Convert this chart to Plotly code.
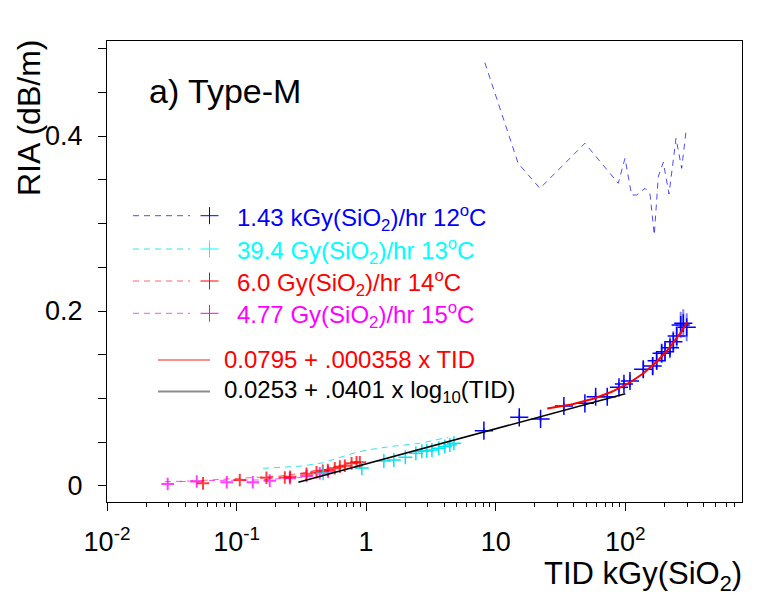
import numpy as np
import plotly.graph_objects as go

# TID in kGy(SiO2), RIA in dB/m
# 1.43 kGy/hr, 12 C
blue_tid = [8.11, 15.2, 22.2, 33.6, 48.8, 59.1, 72.6, 89.4, 97.7, 108.7, 137.7, 162.8,
            174.8, 191, 202.6, 221.4, 234.8, 249.5, 267.8, 280.5, 298]
blue_ria = [0.0632, 0.0785, 0.0766, 0.0914, 0.0945, 0.102, 0.102, 0.1128, 0.1166, 0.12,
            0.1334, 0.1371, 0.1432, 0.1517, 0.1535, 0.158, 0.1649, 0.1714, 0.184, 0.186, 0.1814]
blue_err = [0.003, 0.003, 0.003, 0.004, 0.004, 0.005, 0.005, 0.006, 0.006, 0.007, 0.009,
            0.010, 0.010, 0.011, 0.011, 0.012, 0.012, 0.013, 0.015, 0.016, 0.016]
blue_line_tid = [8.25, 14.9, 21.95, 48.8, 88.3, 99.5, 112, 122.5, 142, 155, 167.5, 179.8,
                 196.6, 217.6, 246.4, 272.6, 294.2]
blue_line_ria = [0.4838, 0.3688, 0.3402, 0.3917, 0.346, 0.3745, 0.3326, 0.3326, 0.3402,
                 0.3345, 0.2869, 0.3535, 0.37, 0.3337, 0.3974, 0.3631, 0.405]

# 39.4 Gy/hr, 13 C
cyan_tid = [0.466, 0.926, 1.37, 1.636, 2.008, 2.42, 2.69, 2.94, 3.22, 3.64, 4.05, 4.43, 4.76]
cyan_ria = [0.0145, 0.0206, 0.0286, 0.0297, 0.0328, 0.0374, 0.0397, 0.04, 0.0411, 0.0431,
            0.045, 0.0469, 0.0488]
cyan_line_tid = [0.160, 0.326, 0.466, 0.794, 1.007, 1.524, 2.598, 4.30]
cyan_line_ria = [0.0202, 0.0229, 0.0266, 0.0374, 0.041, 0.045, 0.0488, 0.0557]

# 6.0 Gy/hr, 14 C
red_tid = [0.0551, 0.1059, 0.170, 0.2357, 0.259, 0.3467, 0.414, 0.463, 0.506, 0.573,
           0.627, 0.685, 0.772, 0.843, 0.894]
red_ria = [0.003, 0.0069, 0.0095, 0.0097, 0.0106, 0.0139, 0.0157, 0.0174, 0.0183, 0.0202,
           0.0221, 0.0232, 0.0259, 0.0271, 0.0271]
red_line_tid = [0.0364, 0.0742, 0.138, 0.2156, 0.317, 0.39, 0.495, 0.86]
red_line_ria = [0.0049, 0.0077, 0.0099, 0.0114, 0.0145, 0.0175, 0.0191, 0.0283]

# 4.77 Gy/hr, 15 C
mag_tid = [0.0294, 0.0493, 0.084, 0.1334, 0.1804, 0.2576, 0.3467, 0.439, 0.509]
mag_ria = [0.0023, 0.0051, 0.0042, 0.0042, 0.0061, 0.0088, 0.0114, 0.0145, 0.0163]
mag_line_tid = [0.028, 0.0621, 0.151, 0.31, 0.466]
mag_line_ria = [0.0049, 0.0063, 0.0069, 0.0097, 0.0145]

# fit coefficients as printed in the legend, and the TID span of each fit
lin_a, lin_b, lin_span = 0.0795, 0.000358, (25, 300)
log_a, log_b, log_span = 0.0253, 0.0401, (0.3, 100)

legend_labels = ["1.43 kGy(SiO<sub>2</sub>)/hr 12<sup>o</sup>C",
                 "39.4 Gy(SiO<sub>2</sub>)/hr 13<sup>o</sup>C",
                 "6.0 Gy(SiO<sub>2</sub>)/hr 14<sup>o</sup>C",
                 "4.77 Gy(SiO<sub>2</sub>)/hr 15<sup>o</sup>C"]
fit_labels = ["0.0795 + .000358 x TID", "0.0253 + .0401 x log<sub>10</sub>(TID)"]

x_ticks = [0.01, 0.1, 1, 10, 100]
x_ticktext = ["10<sup>-2</sup>", "10<sup>-1</sup>", "1", "10", "10<sup>2</sup>"]
y_ticks = [0, 0.05, 0.1, 0.15, 0.2, 0.25, 0.3, 0.35, 0.4, 0.45, 0.5]
y_ticktext = ["0", "", "", "", "0.2", "", "", "", "0.4", "", ""]

FONT = "Liberation Sans, Arial, Helvetica, sans-serif"
colors = ["#0000ff", "#00ffff", "#ff0000", "#ff00ff"]
dash_colors = ["rgba(0,0,255,0.7)", "rgba(0,220,230,0.8)", "rgba(255,0,0,0.6)", "rgba(255,0,255,0.7)"]

fig = go.Figure()

# dashed curves
for tx, ty, c in [(blue_line_tid, blue_line_ria, dash_colors[0]),
                  (cyan_line_tid, cyan_line_ria, dash_colors[1]),
                  (red_line_tid, red_line_ria, dash_colors[2]),
                  (mag_line_tid, mag_line_ria, dash_colors[3])]:
    fig.add_trace(go.Scatter(x=tx, y=ty, mode='lines',
                             line=dict(color=c, width=1, dash='6px,5px'), showlegend=False))

# markers
fig.add_trace(go.Scatter(x=mag_tid, y=mag_ria, mode='markers', showlegend=False,
                         marker=dict(symbol='cross-thin', size=9, line=dict(color='rgba(255,0,255,0.75)', width=2))))
fig.add_trace(go.Scatter(x=red_tid, y=red_ria, mode='markers', showlegend=False,
                         marker=dict(symbol='cross-thin', size=9, line=dict(color='rgba(255,0,0,0.75)', width=2))))
fig.add_trace(go.Scatter(x=cyan_tid, y=cyan_ria, mode='markers', showlegend=False,
                         marker=dict(symbol='cross-thin', size=10, line=dict(color='#00e5f0', width=1.5))))
fig.add_trace(go.Scatter(x=blue_tid, y=blue_ria, mode='markers', showlegend=False,
                         error_y=dict(type='data', array=blue_err, color='rgba(40,40,255,0.6)',
                                      thickness=2, width=0),
                         marker=dict(symbol='cross-thin', size=13, line=dict(color='#0000ff', width=1.5))))

# fit curves
lin_x = np.geomspace(lin_span[0], lin_span[1], 60)
fig.add_trace(go.Scatter(x=lin_x, y=lin_a + lin_b * lin_x, mode='lines', showlegend=False,
                         line=dict(color='#ff0000', width=2)))
log_x = np.array(log_span)
fig.add_trace(go.Scatter(x=log_x, y=log_a + log_b * np.log10(log_x), mode='lines', showlegend=False,
                         line=dict(color='black', width=1.5)))

# plot frame in page pixels; the page body adds an 8px offset
L, R, T, B = 107, 742, 41, 502
OFF = 8
W, H = 777 - OFF, 600 - OFF

def px(x):
    return (x - L) / (R - L)
def py(y):
    return (B - y) / (B - T)

shapes = []
annotations = []
row_y = [215.7, 249, 281, 313.3]
for yy, c, dc, lab in zip(row_y, colors, dash_colors, legend_labels):
    shapes.append(dict(type='line', xref='paper', yref='paper', x0=px(133), x1=px(190),
                       y0=py(yy), y1=py(yy), line=dict(color=dc, width=1, dash='6px,5px')))
    shapes.append(dict(type='line', xref='paper', yref='paper', x0=px(200.5), x1=px(218.5),
                       y0=py(yy), y1=py(yy), line=dict(color=c, width=1)))
    shapes.append(dict(type='line', xref='paper', yref='paper', x0=px(209.5), x1=px(209.5),
                       y0=py(yy - 8.5), y1=py(yy + 8.5), line=dict(color=c, width=1)))
    annotations.append(dict(text=lab, x=px(235), y=py(yy + 2), xref='paper', yref='paper',
                            xanchor='left', yanchor='middle', showarrow=False,
                            font=dict(family=FONT, size=24, color=c)))

for yy, sc, tc, lab in [(360, 'rgba(255,0,0,0.45)', '#ff0000', fit_labels[0]),
                        (391.5, 'rgba(0,0,0,0.45)', 'black', fit_labels[1])]:
    shapes.append(dict(type='line', xref='paper', yref='paper', x0=px(158), x1=px(210),
                       y0=py(yy), y1=py(yy), line=dict(color=sc, width=2)))
    annotations.append(dict(text=lab, x=px(221.7), y=py(yy), xref='paper', yref='paper',
                            xanchor='left', yanchor='middle', showarrow=False,
                            font=dict(family=FONT, size=24, color=tc)))

annotations.append(dict(text="a) Type-M", x=px(147), y=py(91), xref='paper', yref='paper',
                        xanchor='left', yanchor='middle', showarrow=False,
                        font=dict(family=FONT, size=34, color='black')))
annotations.append(dict(text="TID kGy(SiO<sub>2</sub>)", x=px(744), y=py(576), xref='paper', yref='paper',
                        xanchor='right', yanchor='middle', showarrow=False,
                        font=dict(family=FONT, size=31, color='black')))
annotations.append(dict(text="RIA (dB/m)", x=px(29), y=py(38), xref='paper', yref='paper',
                        xanchor='center', yanchor='top', textangle=-90, showarrow=False,
                        font=dict(family=FONT, size=32, color='black')))

minor_x = [m * 10.0 ** e for e in range(-2, 3) for m in range(2, 10)]

fig.update_layout(
    width=W, height=H,
    margin=dict(l=L - OFF, r=W - (R - OFF), t=T - OFF, b=H - (B - OFF), autoexpand=False),
    paper_bgcolor='white', plot_bgcolor='white',
    font=dict(family=FONT, color='black'),
    shapes=shapes, annotations=annotations,
    xaxis=dict(type='log', range=[-2, 2.901], showgrid=False, zeroline=False, automargin=False,
               showline=True, linecolor='black', linewidth=1, mirror=True,
               ticks='outside', ticklen=8, tickcolor='black',
               tickvals=x_ticks, ticktext=x_ticktext, tickfont=dict(size=27),
               ticklabelstandoff=8,
               minor=dict(tickvals=minor_x, ticks='outside', ticklen=4, tickcolor='black')),
    yaxis=dict(range=[-0.0183, 0.5086], showgrid=False, zeroline=False, automargin=False,
               showline=True, linecolor='black', linewidth=1, mirror=True,
               ticks='outside', ticklen=8, tickcolor='black',
               tickvals=y_ticks, ticktext=y_ticktext, tickfont=dict(size=27),
               ticklabelstandoff=10),
)

fig.write_html("out.html")
